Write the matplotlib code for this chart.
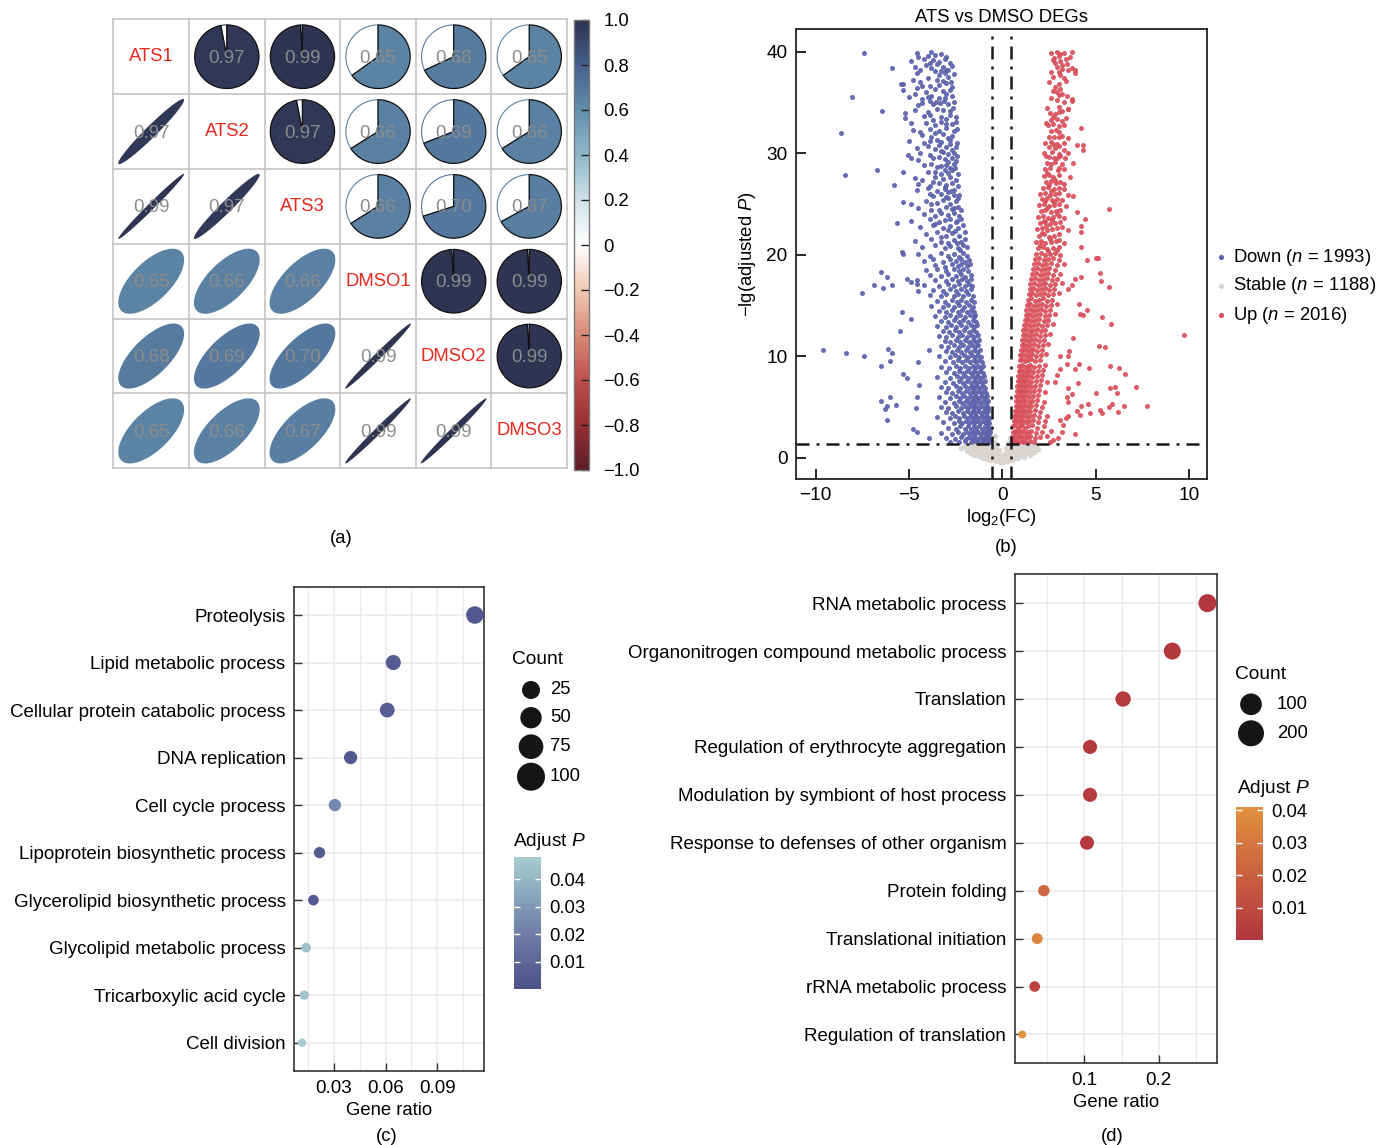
import numpy as np
import matplotlib
matplotlib.use('Agg')
import matplotlib.pyplot as plt
from matplotlib.colors import LinearSegmentedColormap, Normalize
from matplotlib.patches import Wedge, Polygon
from matplotlib.cm import ScalarMappable

plt.rcParams['font.family'] = ['Liberation Sans', 'DejaVu Sans']
plt.rcParams['mathtext.fontset'] = 'custom'
plt.rcParams['mathtext.rm'] = 'Liberation Sans'
plt.rcParams['mathtext.it'] = 'Liberation Sans:italic'

# ---------------- data ----------------
# (a) sample correlation
samples = ['ATS1', 'ATS2', 'ATS3', 'DMSO1', 'DMSO2', 'DMSO3']
corr = np.array([
    [1.00, 0.97, 0.99, 0.65, 0.68, 0.65],
    [0.97, 1.00, 0.97, 0.66, 0.69, 0.66],
    [0.99, 0.97, 1.00, 0.66, 0.70, 0.67],
    [0.65, 0.66, 0.66, 1.00, 0.99, 0.99],
    [0.68, 0.69, 0.70, 0.99, 1.00, 0.99],
    [0.65, 0.66, 0.67, 0.99, 0.99, 1.00],
])
corr_ticks = [-1.0, -0.8, -0.6, -0.4, -0.2, 0.0, 0.2, 0.4, 0.6, 0.8, 1.0]
corr_ticklabels = ['\u22121.0', '\u22120.8', '\u22120.6', '\u22120.4', '\u22120.2', '0',
                   '0.2', '0.4', '0.6', '0.8', '1.0']

# (b) volcano, points (log2 FC, -lg adjusted P)
down_pts = [
    (-4.6, 39.9), (-3.8, 40.0), (-3.3, 39.8), (-4.5, 39.5),
    (-4.9, 39.1), (-4.2, 39.3), (-3.9, 38.9), (-3.7, 39.2), (-3.4, 39.0), (-3.1, 39.3), (-2.8, 38.9),
    (-4.7, 38.5), (-4.1, 38.7), (-3.8, 38.4), (-3.5, 38.8), (-3.2, 38.5), (-3.0, 38.2), (-2.7, 38.6),
    (-4.6, 37.9), (-3.6, 38.1), (-3.4, 37.7), (-3.1, 37.9), (-2.9, 38.2), (-2.6, 37.8),
    (-4.8, 37.2), (-4.0, 37.4), (-3.2, 37.1), (-2.9, 37.5), (-2.75, 37.0),
    (-5.3, 36.8), (-4.3, 36.6), (-3.0, 36.9), (-2.7, 36.5),
    (-5.3, 36.2), (-4.6, 36.4), (-4.1, 36.0), (-3.6, 36.3), (-3.2, 36.1), (-3.0, 35.8),
    (-5.0, 35.5), (-4.3, 35.3), (-3.8, 35.6), (-3.4, 35.4), (-2.7, 35.6),
    (-4.3, 34.9), (-3.9, 35.1), (-3.7, 34.8), (-3.55, 35.0), (-3.35, 34.9), (-3.15, 35.1), (-2.9, 34.8), (-2.6, 35.0),
    (-4.7, 34.3), (-4.0, 34.1), (-3.5, 34.4), (-2.8, 34.2), (-2.65, 34.5),
    (-5.2, 33.5), (-4.2, 33.7), (-3.7, 33.3), (-3.3, 33.6), (-3.0, 33.4), (-2.5, 33.6),
    (-4.9, 33.0), (-3.6, 32.8), (-3.3, 33.1), (-2.7, 32.9), (-2.5, 33.1),
    (-4.8, 32.3), (-4.4, 32.1), (-3.9, 32.4), (-3.4, 32.2), (-3.0, 32.5), (-2.6, 32.2), (-2.45, 32.4),
    (-4.3, 31.8), (-3.8, 31.6), (-3.2, 31.9), (-2.7, 31.7),
    (-5.0, 31.2), (-4.2, 31.0), (-3.5, 31.3), (-3.3, 31.1), (-2.8, 31.3), (-2.45, 31.0),
    (-4.6, 30.5), (-4.0, 30.7), (-3.6, 30.4), (-3.0, 30.6), (-2.7, 30.3), (-2.5, 30.6),
    (-4.4, 30.0), (-3.9, 29.8), (-3.2, 30.1), (-2.9, 29.9), (-2.6, 30.0), (-2.45, 29.7),
    (-4.9, 29.5), (-4.5, 29.3), (-3.4, 29.6), (-3.1, 29.4), (-2.7, 29.5), (-2.5, 29.2),
    (-4.2, 28.8), (-3.8, 28.9), (-3.5, 28.6), (-3.0, 28.8), (-2.8, 28.5), (-2.6, 28.9),
    (-4.0, 28.2), (-3.3, 28.0), (-3.1, 28.3), (-2.9, 28.1), (-2.7, 28.3), (-2.4, 28.0),
    (-4.7, 27.6), (-4.3, 27.4), (-3.6, 27.7), (-3.2, 27.5), (-2.8, 27.7), (-2.5, 27.4),
    (-4.5, 27.0), (-3.9, 26.8), (-3.4, 27.1), (-3.0, 26.9), (-2.7, 27.1), (-2.4, 26.8),
    (-4.6, 26.4), (-4.0, 26.6), (-3.5, 26.3), (-3.1, 26.5), (-2.9, 26.2), (-2.6, 26.4),
    (-3.7, 25.8), (-3.3, 26.0), (-3.0, 25.7), (-2.6, 25.9), (-2.4, 25.6), (-2.3, 25.9),
    (-4.9, 25.0), (-4.1, 25.3), (-3.5, 25.1), (-3.2, 25.4), (-2.8, 25.0), (-2.5, 25.3),
    (-4.5, 24.6), (-3.8, 24.4), (-3.0, 24.7), (-2.7, 24.5), (-2.4, 24.7), (-2.2, 24.4),
    (-4.2, 24.0), (-3.6, 23.8), (-3.3, 24.1), (-2.9, 23.9), (-2.6, 24.1), (-2.3, 23.8),
    (-4.9, 23.3), (-3.9, 23.5), (-3.4, 23.2), (-3.1, 23.4), (-2.5, 23.2), (-2.2, 23.5),
    (-4.4, 22.7), (-3.7, 22.9), (-3.2, 22.6), (-2.8, 22.8), (-2.4, 22.6), (-2.1, 22.9),
    (-4.1, 22.0), (-3.5, 22.2), (-3.0, 21.9), (-2.7, 22.1), (-2.3, 21.9), (-2.0, 22.2),
    (-4.7, 21.4), (-3.8, 21.6), (-3.3, 21.3), (-2.6, 21.5), (-2.2, 21.3), (-2.0, 21.6),
    (-4.3, 20.8), (-3.6, 21.0), (-3.1, 20.7), (-2.8, 20.9), (-2.4, 20.7), (-2.1, 21.0), (-1.9, 20.8),
    (-4.0, 39.6), (-3.6, 39.7), (-3.0, 39.5), (-4.4, 38.2), (-3.3, 38.1), (-4.4, 37.0), (-3.5, 37.2),
    (-3.9, 36.6), (-3.4, 36.7), (-2.8, 36.2), (-4.7, 35.8), (-4.0, 35.5), (-3.1, 35.4), (-4.5, 34.7),
    (-3.2, 34.3), (-3.9, 33.8), (-2.8, 33.8), (-4.1, 33.0), (-3.0, 32.9), (-3.6, 32.0), (-2.9, 31.5),
    (-3.9, 31.2), (-3.4, 30.8), (-3.3, 30.2), (-2.8, 30.9), (-3.7, 29.5), (-2.9, 29.1), (-3.3, 28.7),
    (-3.6, 28.2), (-2.55, 28.5), (-3.7, 27.2), (-3.1, 26.7), (-2.75, 26.3), (-3.9, 26.0), (-2.9, 25.6),
    (-3.8, 25.0), (-2.6, 24.6), (-3.4, 24.4), (-2.8, 23.5), (-2.45, 23.3), (-3.6, 23.0), (-2.9, 22.4),
    (-2.55, 22.3), (-3.3, 21.8), (-2.45, 21.2), (-2.9, 21.2), (-2.25, 20.5),
    (-4.5, 20.1), (-3.9, 19.9), (-3.3, 20.2), (-2.9, 19.9), (-2.6, 20.1), (-2.3, 19.8), (-2.1, 20.2), (-1.9, 19.9),
    (-4.2, 19.4), (-3.7, 19.6), (-3.2, 19.3), (-2.8, 19.6), (-2.5, 19.4), (-2.2, 19.6), (-2.0, 19.3), (-1.8, 19.5),
    (-3.6, 19.0), (-3.1, 18.8), (-2.7, 19.1), (-2.4, 18.9), (-2.2, 19.1), (-1.9, 18.9), (-1.75, 19.1),
    (-4.1, 18.5), (-3.5, 18.6), (-3.0, 18.4), (-2.6, 18.6), (-2.3, 18.4), (-2.1, 18.6), (-1.85, 18.4),
    (-3.9, 18.0), (-3.3, 17.9), (-2.9, 18.1), (-2.5, 17.9), (-2.2, 18.1), (-2.0, 17.8), (-1.7, 18.0),
    (-3.6, 17.5), (-3.0, 17.4), (-2.7, 17.6), (-2.4, 17.4), (-2.15, 17.6), (-1.9, 17.4), (-1.7, 17.6),
    (-4.2, 17.0), (-3.4, 16.9), (-2.9, 17.1), (-2.6, 16.9), (-2.3, 17.1), (-2.0, 16.9), (-1.8, 17.1), (-1.65, 16.9),
    (-3.7, 16.5), (-3.2, 16.4), (-2.8, 16.6), (-2.5, 16.4), (-2.2, 16.6), (-1.95, 16.4), (-1.7, 16.6),
    (-3.9, 16.0), (-3.3, 15.9), (-3.0, 16.1), (-2.6, 15.9), (-2.4, 16.1), (-2.1, 15.9), (-1.85, 16.1), (-1.6, 15.9),
    (-3.5, 15.5), (-3.1, 15.4), (-2.7, 15.6), (-2.45, 15.4), (-2.2, 15.6), (-1.95, 15.4), (-1.7, 15.6), (-1.55, 15.4),
    (-3.8, 15.0), (-3.2, 14.9), (-2.9, 15.1), (-2.6, 14.9), (-2.3, 15.1), (-2.05, 14.9), (-1.8, 15.1), (-1.6, 14.9),
    (-3.4, 14.5), (-3.0, 14.4), (-2.7, 14.6), (-2.4, 14.4), (-2.15, 14.6), (-1.9, 14.4), (-1.7, 14.6), (-1.5, 14.4),
    (-3.6, 14.0), (-3.1, 13.9), (-2.8, 14.1), (-2.5, 13.9), (-2.25, 14.1), (-2.0, 13.9), (-1.75, 14.1), (-1.55, 13.9), (-1.45, 14.1),
    (-3.3, 13.5), (-2.9, 13.4), (-2.6, 13.6), (-2.35, 13.4), (-2.1, 13.6), (-1.85, 13.4), (-1.6, 13.6), (-1.4, 13.4),
    (-3.5, 13.0), (-3.0, 12.9), (-2.75, 13.1), (-2.5, 12.9), (-2.2, 13.1), (-1.95, 12.9), (-1.7, 13.1), (-1.5, 12.9), (-1.35, 13.1),
    (-3.2, 12.5), (-2.85, 12.4), (-2.55, 12.6), (-2.3, 12.4), (-2.05, 12.6), (-1.8, 12.4), (-1.6, 12.6), (-1.4, 12.4),
    (-3.4, 12.0), (-3.0, 11.9), (-2.7, 12.1), (-2.4, 11.9), (-2.15, 12.1), (-1.9, 11.9), (-1.7, 12.1), (-1.5, 11.9), (-1.3, 12.1),
    (-3.1, 11.5), (-2.8, 11.4), (-2.5, 11.6), (-2.25, 11.4), (-2.0, 11.6), (-1.8, 11.4), (-1.6, 11.6), (-1.4, 11.4), (-1.25, 11.6),
    (-3.3, 11.0), (-2.9, 10.9), (-2.6, 11.1), (-2.35, 10.9), (-2.1, 11.1), (-1.85, 10.9), (-1.65, 11.1), (-1.45, 10.9), (-1.3, 11.1),
    (-3.0, 10.5), (-2.7, 10.4), (-2.45, 10.6), (-2.2, 10.4), (-1.95, 10.6), (-1.75, 10.4), (-1.55, 10.6), (-1.35, 10.4), (-1.2, 10.6),
    (-3.4, 10.0), (-2.8, 9.9), (-2.55, 10.1), (-2.3, 9.9), (-2.05, 10.1), (-1.85, 9.9), (-1.65, 10.1), (-1.45, 9.9), (-1.3, 10.1), (-1.15, 9.9),
    (-3.1, 9.5), (-2.65, 9.4), (-2.4, 9.6), (-2.15, 9.4), (-1.95, 9.6), (-1.75, 9.4), (-1.55, 9.6), (-1.4, 9.4), (-1.25, 9.6), (-1.1, 9.4),
    (-3.3, 9.0), (-2.85, 8.9), (-2.5, 9.1), (-2.25, 8.9), (-2.0, 9.1), (-1.8, 8.9), (-1.6, 9.1), (-1.45, 8.9), (-1.3, 9.1), (-1.15, 8.9), (-1.05, 9.1),
    (-3.0, 8.5), (-2.6, 8.4), (-2.35, 8.6), (-2.1, 8.4), (-1.9, 8.6), (-1.7, 8.4), (-1.5, 8.6), (-1.35, 8.4), (-1.2, 8.6), (-1.05, 8.4),
    (-3.5, 8.0), (-2.8, 7.9), (-2.45, 8.1), (-2.2, 7.9), (-2.0, 8.1), (-1.8, 7.9), (-1.6, 8.1), (-1.45, 7.9), (-1.3, 8.1), (-1.15, 7.9), (-1.0, 8.1),
    (-3.1, 7.5), (-2.65, 7.4), (-2.35, 7.6), (-2.1, 7.4), (-1.9, 7.6), (-1.7, 7.4), (-1.55, 7.6), (-1.4, 7.4), (-1.25, 7.6), (-1.1, 7.4), (-0.95, 7.6),
    (-3.3, 7.0), (-2.9, 6.9), (-2.5, 7.1), (-2.25, 6.9), (-2.0, 7.1), (-1.8, 6.9), (-1.65, 7.1), (-1.5, 6.9), (-1.35, 7.1), (-1.2, 6.9), (-1.05, 7.1), (-0.95, 6.9),
    (-3.0, 6.5), (-2.7, 6.4), (-2.4, 6.6), (-2.15, 6.4), (-1.95, 6.6), (-1.75, 6.4), (-1.6, 6.6), (-1.45, 6.4), (-1.3, 6.6), (-1.15, 6.4), (-1.0, 6.6), (-0.9, 6.4),
    (-3.4, 6.0), (-2.8, 5.9), (-2.5, 6.1), (-2.25, 5.9), (-2.05, 6.1), (-1.85, 5.9), (-1.7, 6.1), (-1.55, 5.9), (-1.4, 6.1), (-1.25, 5.9), (-1.1, 6.1), (-0.95, 5.9), (-0.85, 6.1),
    (-3.1, 5.5), (-2.6, 5.4), (-2.35, 5.6), (-2.15, 5.4), (-1.95, 5.6), (-1.8, 5.4), (-1.65, 5.6), (-1.5, 5.4), (-1.35, 5.6), (-1.2, 5.4), (-1.05, 5.6), (-0.9, 5.4), (-0.8, 5.6),
    (-3.3, 5.0), (-2.9, 4.9), (-2.5, 5.1), (-2.2, 4.9), (-2.0, 5.1), (-1.85, 4.9), (-1.7, 5.1), (-1.55, 4.9), (-1.4, 5.1), (-1.25, 4.9), (-1.1, 5.1), (-0.95, 4.9), (-0.85, 5.1), (-0.75, 4.9),
    (-3.0, 4.5), (-2.7, 4.4), (-2.4, 4.6), (-2.1, 4.4), (-1.9, 4.6), (-1.75, 4.4), (-1.6, 4.6), (-1.45, 4.4), (-1.3, 4.6), (-1.15, 4.4), (-1.0, 4.6), (-0.9, 4.4), (-0.78, 4.6),
    (-3.5, 4.0), (-2.8, 3.9), (-2.55, 4.1), (-2.3, 3.9), (-2.05, 4.1), (-1.85, 3.9), (-1.7, 4.1), (-1.55, 3.9), (-1.4, 4.1), (-1.25, 3.9), (-1.1, 4.1), (-0.95, 3.9), (-0.85, 4.1), (-0.72, 3.9),
    (-3.2, 3.5), (-2.6, 3.4), (-2.35, 3.6), (-2.15, 3.4), (-1.95, 3.6), (-1.8, 3.4), (-1.65, 3.6), (-1.5, 3.4), (-1.35, 3.6), (-1.2, 3.4), (-1.05, 3.6), (-0.9, 3.4), (-0.8, 3.6), (-0.7, 3.4),
    (-2.9, 3.0), (-2.5, 2.9), (-2.25, 3.1), (-2.0, 2.9), (-1.85, 3.1), (-1.7, 2.9), (-1.55, 3.1), (-1.4, 2.9), (-1.25, 3.1), (-1.1, 2.9), (-0.95, 3.1), (-0.85, 2.9), (-0.75, 3.1), (-0.68, 2.9),
    (-3.3, 2.5), (-2.7, 2.4), (-2.4, 2.6), (-2.1, 2.4), (-1.9, 2.6), (-1.75, 2.4), (-1.6, 2.6), (-1.45, 2.4), (-1.3, 2.6), (-1.15, 2.4), (-1.0, 2.6), (-0.9, 2.4), (-0.8, 2.6), (-0.7, 2.4), (-0.65, 2.6),
    (-3.0, 2.0), (-2.55, 1.9), (-2.2, 2.1), (-1.95, 1.9), (-1.8, 2.1), (-1.65, 1.9), (-1.5, 2.1), (-1.35, 1.9), (-1.2, 2.1), (-1.05, 1.9), (-0.95, 2.1), (-0.85, 1.9), (-0.75, 2.1), (-0.68, 1.9),
    (-2.8, 1.6), (-2.3, 1.55), (-2.0, 1.65), (-1.7, 1.55), (-1.5, 1.65), (-1.3, 1.55), (-1.1, 1.65), (-0.95, 1.55), (-0.8, 1.65), (-0.7, 1.55),
]
down_outliers = [
    (-7.4, 39.9), (-5.9, 38.4), (-8.05, 35.5), (-6.45, 34.2), (-8.65, 32.0), (-8.45, 27.9),
    (-6.7, 28.3), (-5.8, 26.9), (-5.3, 28.2), (-5.65, 23.1), (-5.3, 25.2), (-5.05, 29.8),
    (-5.2, 34.0), (-5.45, 36.8), (-9.6, 10.6), (-8.35, 10.3), (-7.4, 10.0), (-7.5, 16.2),
    (-6.85, 17.0), (-6.5, 18.3), (-6.2, 17.8), (-6.4, 16.7), (-5.9, 17.0), (-5.4, 14.4),
    (-4.9, 13.7), (-5.5, 12.5), (-6.1, 10.7), (-5.9, 10.3), (-6.5, 9.1), (-6.0, 9.55),
    (-5.3, 8.3), (-5.1, 7.9), (-4.45, 7.2), (-4.6, 6.0), (-6.5, 5.6), (-6.0, 6.0),
    (-6.3, 4.8), (-6.2, 5.1), (-5.7, 5.2), (-6.2, 3.7), (-4.65, 4.9), (-4.8, 2.9),
    (-4.6, 2.6), (-3.95, 2.0), (-3.95, 10.6), (-4.5, 9.4), (-5.1, 17.6), (-4.9, 17.3),
    (-4.6, 17.1), (-4.5, 16.4), (-4.6, 17.5), (-5.4, 20.3), (-5.3, 20.1),
]
up_pts = [
    (2.6, 39.9), (2.9, 40.0), (3.1, 39.8), (3.3, 39.9), (3.7, 40.0),
    (2.75, 39.4), (3.0, 39.6), (3.4, 39.3), (3.6, 39.5),
    (2.8, 38.9), (3.1, 39.1), (3.45, 38.8),
    (2.9, 38.5), (3.2, 38.7), (3.7, 38.4),
    (3.0, 38.0), (3.5, 38.2), (3.9, 37.9),
    (2.7, 37.5), (3.1, 37.7), (3.3, 37.4),
    (2.5, 37.0), (3.0, 36.8),
    (2.7, 36.1), (2.9, 36.0),
    (3.0, 35.7), (3.2, 35.8), (3.45, 35.6),
    (3.3, 35.0), (3.7, 35.1),
    (2.4, 34.5), (3.0, 34.6), (3.5, 34.4),
    (2.55, 34.0), (2.8, 33.9), (3.0, 34.1),
    (2.6, 33.3), (2.9, 33.4), (3.2, 33.2),
    (2.45, 32.8), (2.7, 32.9), (3.0, 32.7), (3.3, 32.8),
    (2.6, 32.2), (2.85, 32.3), (3.05, 32.1),
    (2.75, 31.6), (3.2, 31.7), (3.5, 31.5),
    (2.3, 31.0), (2.6, 31.1), (2.9, 30.9), (3.3, 31.0),
    (2.5, 30.6), (2.8, 30.5), (3.05, 30.7),
    (2.2, 30.0), (2.65, 30.1), (3.0, 29.9), (3.5, 30.0),
    (2.5, 29.6), (2.75, 29.5), (3.1, 29.7), (3.35, 29.5),
    (2.4, 29.0), (2.8, 29.1), (3.2, 28.9),
    (2.3, 28.4), (2.55, 28.5), (2.95, 28.3), (3.3, 28.4),
    (2.2, 27.8), (2.5, 27.9), (2.7, 27.7), (3.0, 27.9),
    (2.35, 27.2), (2.6, 27.3), (2.85, 27.1), (3.1, 27.2),
    (2.15, 26.6), (2.45, 26.7), (2.75, 26.5), (3.05, 26.6), (3.3, 26.5),
    (2.0, 26.0), (2.3, 26.1), (2.55, 25.9), (2.8, 26.0), (3.0, 26.1),
    (2.1, 25.5), (2.4, 25.6), (2.65, 25.4), (2.9, 25.5), (3.2, 25.4),
    (1.95, 24.9), (2.2, 25.0), (2.5, 24.8), (2.75, 24.9), (3.0, 25.0), (3.4, 24.8),
    (2.05, 24.3), (2.3, 24.4), (2.6, 24.2), (2.85, 24.3), (3.1, 24.4),
    (1.9, 23.7), (2.15, 23.8), (2.45, 23.6), (2.7, 23.7), (3.0, 23.8), (3.3, 23.6),
    (2.0, 23.1), (2.3, 23.2), (2.55, 23.0), (2.8, 23.1), (3.1, 23.2),
    (1.85, 22.5), (2.1, 22.6), (2.4, 22.4), (2.65, 22.5), (2.9, 22.6), (3.5, 22.4),
    (1.95, 21.9), (2.2, 22.0), (2.5, 21.8), (2.75, 21.9), (3.05, 22.0),
    (1.8, 21.3), (2.05, 21.4), (2.3, 21.2), (2.6, 21.3), (2.85, 21.4), (3.3, 21.2),
    (1.9, 20.7), (2.15, 20.8), (2.4, 20.6), (2.7, 20.7), (3.0, 20.8),
    (2.7, 39.2), (3.2, 38.3), (2.6, 38.0), (3.4, 37.1), (2.8, 36.5), (3.1, 36.3), (2.6, 35.4),
    (2.9, 35.2), (3.2, 34.2), (2.7, 33.6), (3.4, 33.5), (2.35, 33.0), (3.0, 31.6), (2.5, 31.6),
    (2.7, 30.9), (3.3, 30.3), (2.35, 29.7), (2.9, 29.5), (2.6, 28.9), (3.0, 28.5), (2.4, 28.1),
    (2.8, 27.4), (2.5, 26.9), (3.3, 27.0), (2.6, 26.3), (2.25, 25.3), (2.75, 25.2), (3.5, 25.9),
    (2.4, 24.6), (2.9, 24.0), (2.2, 23.3), (2.65, 23.4), (2.35, 22.8), (3.2, 22.7), (2.1, 22.1),
    (2.55, 21.6), (3.0, 21.5), (2.0, 21.0), (2.45, 20.4), (2.9, 20.5),
    (1.8, 20.1), (2.05, 20.2), (2.3, 20.0), (2.55, 20.1), (2.8, 20.2), (3.1, 20.0),
    (1.75, 19.6), (1.95, 19.7), (2.2, 19.5), (2.45, 19.6), (2.7, 19.7), (3.0, 19.5),
    (1.7, 19.1), (1.9, 19.2), (2.1, 19.0), (2.35, 19.1), (2.6, 19.2), (2.9, 19.0), (3.3, 19.1),
    (1.65, 18.6), (1.85, 18.7), (2.05, 18.5), (2.3, 18.6), (2.5, 18.7), (2.8, 18.5),
    (1.6, 18.1), (1.8, 18.2), (2.0, 18.0), (2.2, 18.1), (2.45, 18.2), (2.7, 18.0), (3.1, 18.1),
    (1.55, 17.6), (1.75, 17.7), (1.95, 17.5), (2.15, 17.6), (2.4, 17.7), (2.65, 17.5), (2.9, 17.6),
    (1.5, 17.1), (1.7, 17.2), (1.9, 17.0), (2.1, 17.1), (2.3, 17.2), (2.55, 17.0), (2.8, 17.1), (3.2, 17.2),
    (1.45, 16.6), (1.65, 16.7), (1.85, 16.5), (2.05, 16.6), (2.25, 16.7), (2.5, 16.5), (2.75, 16.6),
    (1.4, 16.1), (1.6, 16.2), (1.8, 16.0), (2.0, 16.1), (2.2, 16.2), (2.45, 16.0), (2.7, 16.1), (3.0, 16.2),
    (1.35, 15.6), (1.55, 15.7), (1.75, 15.5), (1.95, 15.6), (2.15, 15.7), (2.4, 15.5), (2.65, 15.6),
    (1.3, 15.1), (1.5, 15.2), (1.7, 15.0), (1.9, 15.1), (2.1, 15.2), (2.35, 15.0), (2.6, 15.1), (2.9, 15.2),
    (1.28, 14.6), (1.45, 14.7), (1.65, 14.5), (1.85, 14.6), (2.05, 14.7), (2.3, 14.5), (2.55, 14.6),
    (1.25, 14.1), (1.4, 14.2), (1.6, 14.0), (1.8, 14.1), (2.0, 14.2), (2.25, 14.0), (2.5, 14.1), (2.8, 14.2),
    (1.2, 13.6), (1.38, 13.7), (1.55, 13.5), (1.75, 13.6), (1.95, 13.7), (2.2, 13.5), (2.45, 13.6),
    (1.15, 13.1), (1.32, 13.2), (1.5, 13.0), (1.7, 13.1), (1.9, 13.2), (2.1, 13.0), (2.4, 13.1), (2.7, 13.2),
    (1.12, 12.6), (1.28, 12.7), (1.45, 12.5), (1.65, 12.6), (1.85, 12.7), (2.05, 12.5), (2.3, 12.6),
    (1.08, 12.1), (1.25, 12.2), (1.42, 12.0), (1.6, 12.1), (1.8, 12.2), (2.0, 12.0), (2.25, 12.1), (2.55, 12.2),
    (1.05, 11.6), (1.2, 11.7), (1.38, 11.5), (1.55, 11.6), (1.75, 11.7), (1.95, 11.5), (2.2, 11.6),
    (1.02, 11.1), (1.17, 11.2), (1.33, 11.0), (1.5, 11.1), (1.7, 11.2), (1.9, 11.0), (2.15, 11.1), (2.45, 11.2),
    (1.0, 10.6), (1.14, 10.7), (1.3, 10.5), (1.46, 10.6), (1.65, 10.7), (1.85, 10.5), (2.1, 10.6),
    (0.96, 10.1), (1.1, 10.2), (1.25, 10.0), (1.42, 10.1), (1.6, 10.2), (1.8, 10.0), (2.05, 10.1), (2.35, 10.2),
    (0.93, 9.6), (1.07, 9.7), (1.22, 9.5), (1.38, 9.6), (1.55, 9.7), (1.75, 9.5), (2.0, 9.6),
    (0.9, 9.1), (1.04, 9.2), (1.18, 9.0), (1.34, 9.1), (1.5, 9.2), (1.7, 9.0), (1.95, 9.1), (2.25, 9.2),
    (0.88, 8.6), (1.01, 8.7), (1.15, 8.5), (1.3, 8.6), (1.46, 8.7), (1.65, 8.5), (1.9, 8.6), (2.15, 8.7),
    (0.85, 8.1), (0.98, 8.2), (1.12, 8.0), (1.27, 8.1), (1.42, 8.2), (1.6, 8.0), (1.85, 8.1), (2.1, 8.2),
    (0.83, 7.6), (0.95, 7.7), (1.08, 7.5), (1.23, 7.6), (1.38, 7.7), (1.55, 7.5), (1.8, 7.6), (2.05, 7.7), (2.4, 7.5),
    (0.8, 7.1), (0.92, 7.2), (1.05, 7.0), (1.2, 7.1), (1.35, 7.2), (1.52, 7.0), (1.75, 7.1), (2.0, 7.2),
    (0.78, 6.6), (0.9, 6.7), (1.02, 6.5), (1.16, 6.6), (1.3, 6.7), (1.48, 6.5), (1.7, 6.6), (1.95, 6.7), (2.3, 6.5),
    (0.75, 6.1), (0.87, 6.2), (0.99, 6.0), (1.12, 6.1), (1.27, 6.2), (1.44, 6.0), (1.65, 6.1), (1.9, 6.2),
    (0.72, 5.6), (0.84, 5.7), (0.96, 5.5), (1.09, 5.6), (1.23, 5.7), (1.4, 5.5), (1.6, 5.6), (1.85, 5.7), (2.2, 5.5),
    (0.7, 5.1), (0.81, 5.2), (0.93, 5.0), (1.06, 5.1), (1.2, 5.2), (1.36, 5.0), (1.55, 5.1), (1.8, 5.2), (2.1, 5.0),
    (0.67, 4.6), (0.78, 4.7), (0.9, 4.5), (1.03, 4.6), (1.17, 4.7), (1.32, 4.5), (1.5, 4.6), (1.75, 4.7), (2.0, 4.5),
    (0.64, 4.1), (0.75, 4.2), (0.87, 4.0), (1.0, 4.1), (1.14, 4.2), (1.29, 4.0), (1.46, 4.1), (1.7, 4.2), (1.95, 4.0), (2.4, 4.1),
    (0.61, 3.6), (0.72, 3.7), (0.84, 3.5), (0.97, 3.6), (1.1, 3.7), (1.25, 3.5), (1.42, 3.6), (1.65, 3.7), (1.9, 3.5), (2.3, 3.6),
    (0.58, 3.1), (0.69, 3.2), (0.81, 3.0), (0.94, 3.1), (1.07, 3.2), (1.22, 3.0), (1.38, 3.1), (1.6, 3.2), (1.85, 3.0), (2.2, 3.1),
    (0.55, 2.6), (0.66, 2.7), (0.78, 2.5), (0.9, 2.6), (1.04, 2.7), (1.18, 2.5), (1.34, 2.6), (1.55, 2.7), (1.8, 2.5), (2.1, 2.6), (2.6, 2.7),
    (0.52, 2.1), (0.63, 2.2), (0.75, 2.0), (0.87, 2.1), (1.0, 2.2), (1.15, 2.0), (1.3, 2.1), (1.5, 2.2), (1.75, 2.0), (2.0, 2.1), (2.4, 2.2),
    (0.5, 1.6), (0.6, 1.65), (0.72, 1.55), (0.84, 1.6), (0.97, 1.65), (1.12, 1.55), (1.28, 1.6), (1.45, 1.65), (1.7, 1.55),
]
up_outliers = [
    (5.7, 24.5), (4.2, 32.5), (4.0, 30.8), (4.3, 30.8), (4.3, 30.3), (3.8, 29.0), (3.6, 27.7),
    (3.8, 25.8), (4.4, 23.5), (4.2, 22.8), (4.2, 22.2), (4.2, 20.8), (4.0, 24.2), (3.9, 38.2),
    (3.7, 35.3), (3.5, 34.4), (9.74, 12.1), (5.0, 19.65), (5.1, 19.7), (5.2, 18.2), (5.25, 17.4),
    (5.7, 16.8), (4.5, 19.5), (4.2, 17.8), (3.9, 17.6), (3.7, 17.0), (3.5, 16.6), (4.1, 15.2),
    (4.15, 14.2), (4.5, 14.6), (4.3, 14.1), (5.35, 13.9), (5.8, 13.2), (3.8, 11.8), (5.15, 11.0),
    (5.5, 10.9), (5.75, 9.06), (6.25, 8.9), (6.55, 8.3), (7.15, 7.0), (6.0, 7.0), (5.75, 6.86),
    (6.15, 6.37), (5.0, 6.37), (7.75, 5.15), (6.5, 5.1), (6.2, 4.57), (5.85, 5.3), (5.7, 5.06),
    (5.2, 4.7), (5.35, 4.47), (4.6, 5.3), (4.7, 4.4), (4.2, 5.1), (3.97, 4.6), (4.15, 4.2),
    (3.9, 2.4), (4.06, 7.4), (3.7, 6.3), (3.5, 5.55), (3.44, 6.0), (3.53, 6.9), (4.63, 8.83),
    (4.1, 9.25), (3.9, 8.8), (3.44, 9.3), (3.56, 10.5), (3.53, 10.0), (3.1, 10.0), (3.08, 8.8),
    (2.9, 8.2), (2.8, 7.5), (3.5, 4.1), (3.4, 3.9), (3.26, 3.25), (3.08, 3.7), (3.17, 2.6),
    (2.99, 2.0), (2.72, 1.8), (2.54, 1.6),
]
stable_pts = [
    (-2.0, 1.2), (-1.8, 1.0), (-1.7, 1.25), (-1.6, 0.8), (-1.5, 1.1), (-1.4, 0.6), (-1.35, 1.25),
    (-1.3, 0.9), (-1.2, 0.5), (-1.15, 1.1), (-1.1, 0.75), (-1.0, 1.2), (-1.0, 0.4), (-0.95, 0.9),
    (-0.9, 0.6), (-0.85, 1.2), (-0.8, 0.3), (-0.8, 0.9), (-0.75, 0.6), (-0.7, 1.1), (-0.7, 0.2),
    (-0.65, 0.8), (-0.6, 0.45), (-0.55, 1.2), (-0.5, 0.1), (-0.5, 0.7), (-0.45, 1.6), (-0.4, 0.3),
    (-0.4, 2.2), (-0.35, 0.9), (-0.3, 0.0), (-0.3, 1.3), (-0.25, 0.5), (-0.2, -0.2), (-0.15, 0.2),
    (-0.1, -0.3), (-0.05, 0.0), (0.0, -0.25), (0.05, 0.1), (0.1, -0.15), (0.15, 0.3), (0.2, -0.1),
    (0.25, 0.6), (0.3, 0.1), (0.3, 1.5), (0.35, 0.8), (0.4, 0.3), (0.4, 2.0), (0.45, 1.1),
    (0.5, 0.5), (0.55, 0.9), (0.6, 0.2), (0.6, 1.2), (0.7, 0.6), (0.75, 1.0), (0.8, 0.35),
    (0.85, 1.25), (0.9, 0.7), (1.0, 1.05), (1.0, 0.4), (1.1, 0.85), (1.2, 1.2), (1.25, 0.6),
    (1.35, 1.0), (1.5, 1.25), (1.6, 0.9), (1.8, 1.2),
    (-1.9, 0.7), (-1.7, 0.5), (-1.55, 0.3), (-1.45, 0.9), (-1.25, 0.2), (-1.05, 0.0), (-0.9, 0.1),
    (-0.85, -0.1), (-0.65, 0.2), (-0.6, -0.2), (-0.45, 0.0), (-0.35, -0.3), (-0.25, 0.1),
    (-0.15, -0.4), (0.05, -0.4), (0.1, 0.4), (0.2, 0.2), (0.3, -0.3), (0.45, 0.0), (0.5, -0.2),
    (0.65, 0.0), (0.7, 0.3), (0.85, 0.0), (0.95, 0.2), (1.1, 0.4), (1.15, 0.1), (1.3, 0.45),
    (1.4, 0.7), (1.45, 0.3), (1.7, 0.6), (1.9, 0.9), (-2.2, 1.0), (-1.2, 0.9), (-0.2, 0.8),
    (0.2, 1.0), (1.05, 0.7), (-0.5, 0.4), (0.6, 0.6), (-1.6, 1.3), (1.6, 1.3),
]
group_names = ['Down', 'Stable', 'Up']
group_n = [1993, 1188, 2016]
fc_cut = [-0.55, 0.45]
p_cut = 1.4

# (c) GO terms, down-regulated genes
terms_c = ['Proteolysis', 'Lipid metabolic process', 'Cellular protein catabolic process',
           'DNA replication', 'Cell cycle process', 'Lipoprotein biosynthetic process',
           'Glycerolipid biosynthetic process', 'Glycolipid metabolic process',
           'Tricarboxylic acid cycle', 'Cell division']
ratio_c = [0.1117, 0.0645, 0.0610, 0.0398, 0.0307, 0.0218, 0.0183, 0.0141, 0.0130, 0.0117]
count_c = [112, 65, 61, 40, 31, 22, 18, 14, 13, 12]
padj_c = [0.004, 0.005, 0.006, 0.004, 0.024, 0.005, 0.004, 0.044, 0.045, 0.048]
count_breaks_c = [25, 50, 75, 100]

# (d) GO terms, up-regulated genes
terms_d = ['RNA metabolic process', 'Organonitrogen compound metabolic process', 'Translation',
           'Regulation of erythrocyte aggregation', 'Modulation by symbiont of host process',
           'Response to defenses of other organism', 'Protein folding',
           'Translational initiation', 'rRNA metabolic process', 'Regulation of translation']
ratio_d = [0.2656, 0.2183, 0.1521, 0.1076, 0.1076, 0.1035, 0.0454, 0.0365, 0.0331, 0.0163]
count_d = [266, 218, 152, 108, 108, 104, 45, 37, 33, 16]
padj_d = [0.001, 0.002, 0.003, 0.002, 0.003, 0.002, 0.022, 0.035, 0.006, 0.041]
count_breaks_d = [100, 200]

# ---------------- styles ----------------
cmap_corr = LinearSegmentedColormap.from_list('corr', [
    '#5c1d25', '#992e35', '#bf4f4c', '#d88a76', '#f1c9b4', '#ffffff',
    '#d0e2e9', '#8fb8c8', '#6390ad', '#45608d', '#2d3250'])
cmap_c = LinearSegmentedColormap.from_list('padj_c', ['#4b4f8a', '#7588ad', '#a7cdd0'])
cmap_d = LinearSegmentedColormap.from_list('padj_d', ['#b1353f', '#cc6140', '#e0923f'])
c_down, c_up, c_stable = '#5a61aa', '#d84e5a', '#d9d5d2'
FS = 13.3
PT = 13

W, H = 1387, 1145
fig = plt.figure(figsize=(W / 100, H / 100), dpi=100)


def box(x0, y0, x1, y1):
    return [x0 / W, 1 - y1 / H, (x1 - x0) / W, (y1 - y0) / H]


# ---------------- (a) correlation plot ----------------
ax = fig.add_axes(box(113.4, 19.3, 567.1, 468.3))
ax.set_xlim(0, 6)
ax.set_ylim(0, 6)
ax.axis('off')
norm_corr = Normalize(-1, 1)
n = len(samples)
for i in range(n):
    for j in range(n):
        cx, cy = j + 0.5, n - 1 - i + 0.5
        r = corr[i, j]
        if i == j:
            ax.text(cx, cy, samples[i], color='#e5291d', ha='center', va='center', fontsize=13.3)
            continue
        col = cmap_corr(norm_corr(r))
        if j > i:
            ax.add_patch(Wedge((cx, cy), 0.425, 90, 450 - 360 * r, facecolor='white',
                               edgecolor=col, lw=0.8))
            ax.add_patch(Wedge((cx, cy), 0.425, 90 - 360 * r, 90, facecolor=col,
                               edgecolor='#111111', lw=0.9))
        else:
            d = np.arccos(r)
            k = np.linspace(0, 2 * np.pi, 120)
            ex = cx + 0.87 * np.cos(k + d / 2) / 2
            ey = cy + 0.87 * np.cos(k - d / 2) / 2
            ax.add_patch(Polygon(np.column_stack([ex, ey]), closed=True, facecolor=col,
                                 edgecolor='none'))
        ax.text(cx, cy - 0.02, f'{r:.2f}', color='#8c8c8c', ha='center', va='center', fontsize=13.5)
for k in range(n + 1):
    ax.plot([k, k], [0, n], color='#cac4c4', lw=1.2, clip_on=False)
    ax.plot([0, n], [k, k], color='#cac4c4', lw=1.2, clip_on=False)

cax = fig.add_axes(box(574.2, 20, 589.4, 470))
cb = fig.colorbar(ScalarMappable(norm_corr, cmap_corr), cax=cax, ticks=corr_ticks)
cb.set_ticklabels(corr_ticklabels)
cb.outline.set_edgecolor('#777777')
cb.outline.set_linewidth(1)
cax.tick_params(direction='in', length=6, width=1, color='#222222', labelsize=FS, pad=10)
fig.text(341 / W, 1 - 538 / H, '(a)', ha='center', va='center', fontsize=FS)

# ---------------- (b) volcano ----------------
axb = fig.add_axes(box(796, 29.3, 1206.7, 478.7))
sx, sy = zip(*stable_pts)
dx, dy = zip(*(down_pts + down_outliers))
ux, uy = zip(*(up_pts + up_outliers))
axb.scatter(sx, sy, s=16, color=c_stable, lw=0, zorder=2)
axb.scatter(dx, dy, s=PT, color=c_down, lw=0, alpha=0.92, zorder=3)
axb.scatter(ux, uy, s=PT, color=c_up, lw=0, alpha=0.92, zorder=3)
for v in fc_cut:
    axb.axvline(v, color='#1a1a1a', lw=1.8, dashes=(5.2, 2.8, 1.2, 2.8), zorder=4)
axb.axhline(p_cut, color='#1a1a1a', lw=1.8, dashes=(5.2, 2.8, 1.2, 2.8), zorder=4)
axb.set_xlim(-11.05, 10.93)
axb.set_ylim(-2.04, 42.2)
axb.set_xticks([-10, -5, 0, 5, 10])
axb.set_yticks([0, 10, 20, 30, 40])
axb.tick_params(direction='in', length=7, width=1.2, labelsize=FS + 0.4, pad=6)
for s in axb.spines.values():
    s.set_linewidth(1.3)
    s.set_color('#222222')
axb.set_title('ATS vs DMSO DEGs', fontsize=FS, pad=5)
axb.set_xlabel('log$_2$(FC)', fontsize=FS, labelpad=2)
axb.set_ylabel('\u2212lg(adjusted $\\it{P}$)', fontsize=FS, labelpad=6)
fig.text(1006 / W, 1 - 548 / H, '(b)', ha='center', va='center', fontsize=FS)


# ---------------- (c) & (d) GO dot plots ----------------
def dotplot(rect, terms, ratio, count, padj, cmap, pmax, xmaj, xmin, xlim, dmin, dmax):
    a = fig.add_axes(rect)
    ypos = np.arange(len(terms))[::-1] + 1
    cnt = np.array(count, float)
    t = (cnt - cnt.min()) / (cnt.max() - cnt.min())
    dia = dmin + (dmax - dmin) * np.sqrt(t)
    a.scatter(ratio, ypos, s=(dia * 0.72) ** 2, c=padj, cmap=cmap, norm=Normalize(0, pmax),
              lw=0, zorder=3)
    a.set_xlim(*xlim)
    a.set_ylim(0.4, len(terms) + 0.6)
    a.set_yticks(ypos)
    a.set_yticklabels(terms)
    a.set_xticks(xmaj)
    a.set_xticklabels([f'{v:g}' for v in xmaj])
    a.set_xticks(xmin, minor=True)
    a.grid(which='major', color='#ebebeb', lw=1.2)
    a.grid(which='minor', axis='x', color='#ebebeb', lw=1.0)
    a.set_axisbelow(True)
    a.tick_params(which='major', direction='in', length=6, width=1, color='#333333',
                  labelsize=FS + 0.2, pad=6)
    a.tick_params(which='minor', length=0)
    for s in a.spines.values():
        s.set_linewidth(1.2)
        s.set_color('#333333')
    a.set_xlabel('Gene ratio', fontsize=FS, labelpad=4)
    return a


axc = dotplot(box(293.9, 586.5, 483.7, 1071.2), terms_c, ratio_c, count_c, padj_c, cmap_c,
              0.0482, [0.03, 0.06, 0.09], [0.015, 0.045, 0.075, 0.105], (0.0070, 0.1168),
              8.4, 17.5)
axd = dotplot(box(1014.7, 574.4, 1216.5, 1063.2), terms_d, ratio_d, count_d, padj_d, cmap_d,
              0.0411, [0.1, 0.2], [0.05, 0.15, 0.25], (0.0062, 0.2778),
              8.0, 18.0)
fig.text(387 / W, 1 - 1136.8 / H, '(c)', ha='center', va='center', fontsize=FS)
fig.text(1112 / W, 1 - 1136.6 / H, '(d)', ha='center', va='center', fontsize=FS)

# colour bars for adjusted P
for rect, cmap, pmax in [(box(514, 856.8, 541, 989), cmap_c, 0.0482),
                         (box(1236, 806.7, 1262.7, 940), cmap_d, 0.0411)]:
    cx_ = fig.add_axes(rect)
    cbp = fig.colorbar(ScalarMappable(Normalize(0, pmax), cmap), cax=cx_,
                       ticks=[0.01, 0.02, 0.03, 0.04])
    cbp.set_ticklabels(['0.01', '0.02', '0.03', '0.04'])
    cbp.outline.set_visible(False)
    cx_.tick_params(direction='in', length=4, width=1, color='white', left=True, right=True,
                    labelsize=FS, pad=6)

# ---------------- legends (figure pixel overlay) ----------------
ov = fig.add_axes([0, 0, 1, 1])
ov.set_xlim(0, W)
ov.set_ylim(H, 0)
ov.axis('off')

# volcano legend
leg_y = [257, 286, 315]
for yy, col, name, nn in zip(leg_y, [c_down, c_stable, c_up], group_names, group_n):
    ov.scatter([1221], [yy], s=14, color=col, lw=0)
    ov.text(1233, yy, f'{name} ($\\it{{n}}$ = {nn})', va='center', ha='left', fontsize=FS)

# count legends
bc = np.array(count_breaks_c, float)
yc = [690, 717.7, 746.7, 776.7]
ov.scatter([531] * len(bc), yc, s=((14.7 + 0.133 * bc) * 0.72) ** 2, color='#151515', lw=0)
for yy, b in zip(yc, count_breaks_c):
    ov.text(550, yy, str(b), va='center', ha='left', fontsize=FS)
ov.text(512, 660, 'Count', va='center', ha='left', fontsize=FS + 0.5)
ov.text(513, 841.7, 'Adjust $\\it{P}$', va='center', ha='left', fontsize=FS + 0.5)

bd = np.array(count_breaks_d, float)
yd = [704.3, 733.3]
ov.scatter([1251] * len(bd), yd, s=((17.4 + 0.043 * bd) * 0.72) ** 2, color='#151515', lw=0)
for yy, b in zip(yd, count_breaks_d):
    ov.text(1276.7, yy, str(b), va='center', ha='left', fontsize=FS)
ov.text(1235, 674.5, 'Count', va='center', ha='left', fontsize=FS + 0.5)
ov.text(1236.7, 788.3, 'Adjust $\\it{P}$', va='center', ha='left', fontsize=FS + 0.5)

fig.savefig('out.png', dpi=100)
